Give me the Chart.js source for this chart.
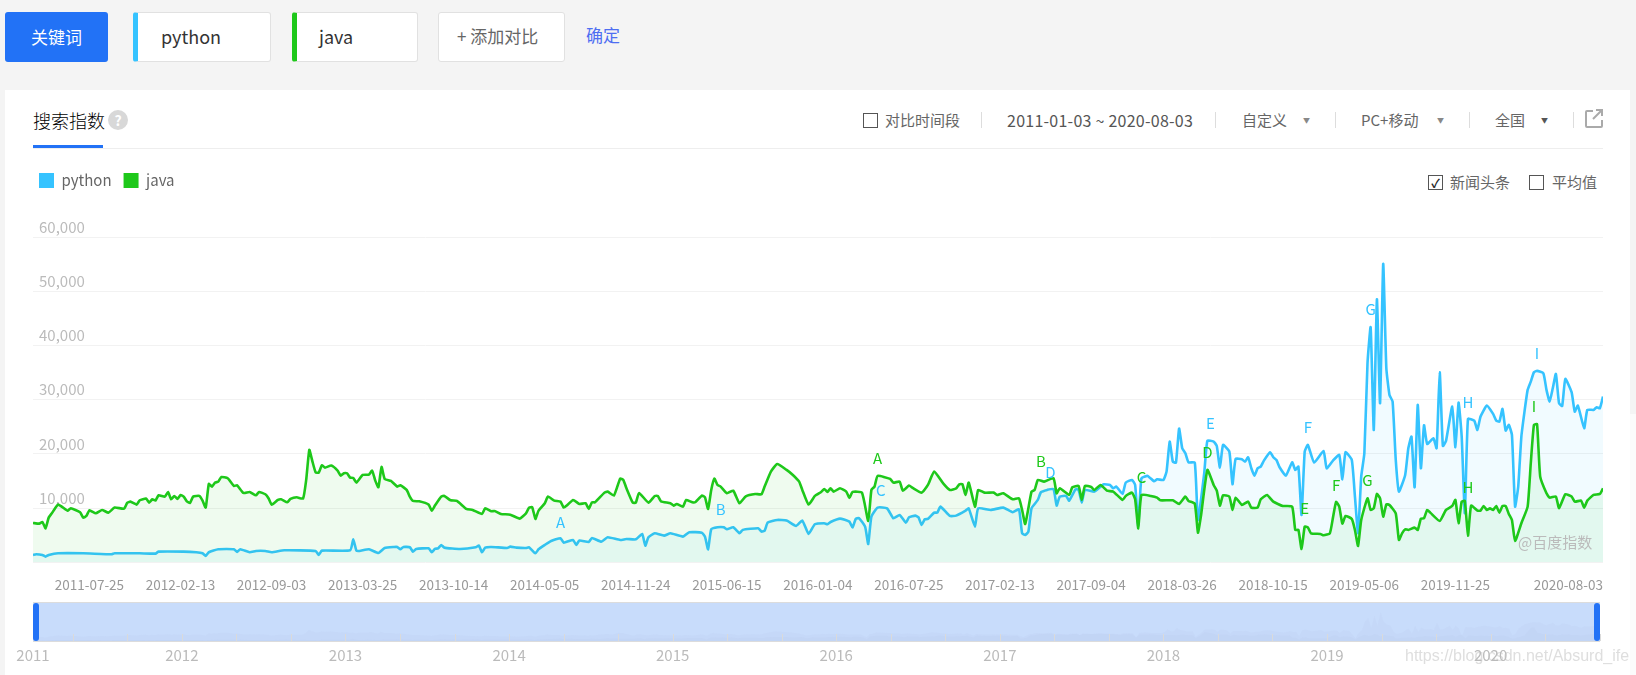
<!DOCTYPE html>
<html>
<head>
<meta charset="utf-8">
<title>百度指数</title>
<script src="https://cdn.jsdelivr.net/npm/chart.js@4"></script>
<style>
  html, body { margin: 0; padding: 0; width: 1636px; height: 675px; overflow: hidden; background: #f4f4f4; font-family: "Noto Sans CJK SC", sans-serif; }
  .abs { position: absolute; white-space: nowrap; }
  .box { position: absolute; top: 12px; height: 48px; background: #fff; border: 1px solid #e1e1e1; border-radius: 3px; box-sizing: content-box; }
  .small { font-size: 15px; color: #666; line-height: 20px; }
  .sep { position: absolute; top: 112px; width: 1px; height: 16px; background: #ddd; }
  .check { position: absolute; width: 13px; height: 13px; border: 1px solid #555; background: #fff; }
  .arrow { position: absolute; top: 116px; font-size: 7px; line-height: 8px; color: #888; }
</style>
</head>
<body>
<div class="abs" style="left:5px;top:12px;width:103px;height:50px;background:#2272f6;border-radius:3px;color:#fff;font-size:17px;line-height:50px;text-align:center">关键词</div>
<div class="box" style="left:133px;width:132px;border-left:5px solid #35c3ff"></div>
<div class="abs" style="left:161px;top:22px;font-size:18px;line-height:28px;color:#333">python</div>
<div class="box" style="left:292px;width:120px;border-left:5px solid #1ec81a"></div>
<div class="abs" style="left:319px;top:22px;font-size:18px;line-height:28px;color:#333">java</div>
<div class="box" style="left:438px;width:125px"></div>
<div class="abs" style="left:457px;top:22px;font-size:17px;line-height:28px;color:#666">+ 添加对比</div>
<div class="abs" style="left:586px;top:21px;font-size:17px;line-height:28px;color:#4e6ef2">确定</div>

<div class="abs" style="left:5px;top:90px;width:1625px;height:585px;background:#fff"></div>
<div class="abs" style="left:1630px;top:414px;width:6px;height:261px;background:#fbfbfb"></div>

<div class="abs" style="left:33px;top:106px;font-size:18px;font-weight:300;line-height:28px;color:#000">搜索指数</div>
<div class="abs" style="left:108px;top:110px;width:20px;height:20px;border-radius:10px;background:#d8d8d8;color:#fff;font-size:14px;font-weight:bold;line-height:20px;text-align:center">?</div>
<div class="abs" style="left:33px;top:148px;width:1570px;height:1px;background:#eee"></div>
<div class="abs" style="left:33px;top:145px;width:70px;height:3px;background:#2272f6"></div>

<div class="check" style="left:863px;top:113px"></div>
<div class="abs small" style="left:885px;top:110px">对比时间段</div>
<div class="sep" style="left:981px"></div>
<div class="abs small" style="left:1007px;top:110px;font-size:16px;letter-spacing:.25px;color:#555">2011-01-03 ~ 2020-08-03</div>
<div class="sep" style="left:1215px"></div>
<div class="abs small" style="left:1242px;top:110px">自定义</div>
<div class="arrow" style="left:1303px">▼</div>
<div class="sep" style="left:1335px"></div>
<div class="abs small" style="left:1361px;top:110px">PC+移动</div>
<div class="arrow" style="left:1437px">▼</div>
<div class="sep" style="left:1469px"></div>
<div class="abs small" style="left:1495px;top:110px">全国</div>
<div class="arrow" style="left:1541px;color:#555">▼</div>
<div class="sep" style="left:1573px"></div>
<svg class="abs" style="left:1585px;top:109px" width="18" height="19" viewBox="0 0 18 19" fill="none" stroke="#aaa" stroke-width="2">
  <path d="M8 2H2a1 1 0 0 0-1 1v14a1 1 0 0 0 1 1h14a1 1 0 0 0 1-1v-6"/>
  <path d="M8 10 16 2M11 1h6v6"/>
</svg>

<div class="check" style="left:1428px;top:175px;text-align:center;font-size:12px;font-weight:bold;line-height:13px;color:#222">✓</div>
<div class="abs small" style="left:1450px;top:172px">新闻头条</div>
<div class="check" style="left:1529px;top:175px"></div>
<div class="abs small" style="left:1552px;top:172px">平均值</div>

<canvas id="trendChart" width="1636" height="675" style="position:absolute;left:0;top:0"></canvas>
<canvas id="brushChart" width="1636" height="85" style="position:absolute;left:0;top:590px"></canvas>

<div class="abs" style="left:33px;top:603px;width:6px;height:38px;background:#2272f6;border-radius:3px"></div>
<div class="abs" style="left:1594px;top:603px;width:6px;height:38px;background:#2272f6;border-radius:3px"></div>
<div class="abs" style="left:1518px;top:531px;font-size:15px;line-height:22px;color:#bbb">@百度指数</div>
<div class="abs" style="left:1405px;top:645px;font-family:'Liberation Sans';font-size:16px;line-height:22px;color:rgba(190,190,190,.5)">https://blog.csdn.net/Absurd_ife</div>

<script>
// weeks counted from 2011-01-03 at each visible turn of the line
const pythonWeeks = [
  0, 1, 3, 4, 5, 8, 16, 25, 26, 34, 39, 40,
  48, 52, 54, 55, 56, 59, 64, 65, 66, 69, 71, 74,
  76, 80, 90, 91, 92, 101, 102, 103, 104, 107, 110, 112,
  115, 116, 117, 118, 120, 121, 122, 126, 127, 128, 129, 130,
  131, 136, 141, 142, 143, 144, 146, 151, 152, 154, 157, 158,
  160, 161, 163, 165, 168, 169, 172, 173, 174, 177, 178, 181,
  183, 187, 189, 192, 194, 195, 196, 198, 201, 203, 207, 209,
  213, 214, 215, 216, 218, 220, 221, 223, 225, 226, 231, 232,
  233, 234, 237, 240, 243, 245, 247, 249, 252, 253, 254, 257,
  260, 261, 262, 263, 265, 266, 267, 269, 272, 274, 276, 278,
  279, 281, 282, 283, 284, 285, 287, 288, 289, 292, 294, 297,
  298, 300, 301, 305, 309, 312, 314, 315, 316, 317, 318, 320,
  321, 323, 325, 326, 327, 329, 330, 332, 333, 334, 335, 338,
  340, 341, 343, 344, 345, 347, 348, 350, 351, 352, 353, 355,
  357, 358, 360, 361, 362, 363, 364, 365, 366, 367, 368, 370,
  371, 373, 374, 376, 377, 378, 379, 381, 382, 383, 385, 386,
  387, 388, 389, 390, 391, 392, 394, 395, 396, 397, 399, 401,
  402, 403, 404, 405, 406, 408, 411, 412, 414, 416, 417, 418,
  420, 421, 422, 423, 424, 425, 426, 427, 428, 429, 430, 431,
  432, 433, 434, 435, 437, 438, 439, 440, 441, 442, 443, 444,
  446, 447, 448, 449, 450, 452, 453, 454, 455, 456, 457, 459,
  460, 461, 463, 465, 466, 467, 468, 469, 470, 471, 472, 473,
  474, 475, 476, 477, 478, 479, 481, 482, 483, 484, 485, 486,
  487, 488, 490, 491, 492, 494, 495, 497, 498, 499, 500
];
const pythonValues = [
  1350, 1480, 1350, 1050, 1350, 1660, 1660, 1480, 1660, 1660, 1600, 1970,
  1970, 1850, 1660, 1170, 1850, 2400, 2400, 1910, 2400, 1850, 2090, 2090,
  1850, 2210, 2090, 1350, 2150, 2210, 4240, 2150, 2090, 2400, 1720, 2640,
  2830, 2830, 2400, 2830, 2770, 1970, 2460, 2580, 1850, 2460, 2580, 3200,
  2710, 2460, 2770, 3080, 1850, 2710, 2830, 2640, 2890, 2710, 2640, 2770,
  1660, 2400, 3200, 3940, 4430, 3630, 4120, 3200, 4000, 3750, 4490, 3810,
  4610, 4120, 4300, 4240, 5230, 3080, 4610, 5350, 4920, 5350, 4740, 5540,
  5470, 4740, 2400, 6090, 6460, 6460, 6090, 6460, 5350, 5970, 6270, 5660,
  5840, 7320, 7810, 7690, 6700, 7690, 5230, 7010, 7200, 7010, 7440, 8060,
  7500, 6400, 8000, 8180, 6580, 3380, 8430, 10090, 9960, 8120, 8730, 7320,
  8300, 8610, 8300, 6890, 7930, 8000, 9160, 9160, 10270, 8550, 8610, 9530,
  9960, 6580, 9960, 9660, 10090, 9230, 9780, 5350, 5040, 5660, 9960, 11500,
  12920, 13350, 13530, 10460, 12120, 12240, 11380, 13470, 13350, 11010, 13350, 13040,
  13960, 14390, 14270, 13650, 13960, 12610, 14700, 15190, 14270, 6770, 15500, 15930,
  14940, 15310, 15190, 16730, 22260, 18570, 18390, 24660, 21030, 20110, 18450, 18390,
  7810, 16420, 22390, 22260, 21460, 17470, 21650, 20420, 14390, 19070, 19000, 18570,
  19370, 17340, 15990, 17340, 17650, 18760, 20300, 19370, 18880, 17530, 15990, 18450,
  17040, 17650, 8730, 20420, 21650, 18390, 20540, 17340, 18760, 19800, 15310, 20300,
  18880, 12120, 5350, 15810, 20110, 36720, 43360, 24420, 48520, 29340, 55040, 35790,
  30870, 29640, 18880, 13040, 16110, 21030, 23190, 13840, 29030, 17340, 25280, 21830,
  22880, 21030, 35060, 21460, 22390, 28720, 21220, 29460, 23190, 9040, 26450, 26140,
  24420, 26880, 28900, 27370, 26140, 25950, 28290, 24290, 25340, 23490, 10270, 13960,
  23190, 27800, 31800, 33330, 35060, 35300, 34870, 31800, 29640, 32100, 34750, 29340,
  28840, 33830, 31370, 27800, 28900, 24720, 28110, 28110, 28600, 28410, 30570
];
const javaWeeks = [
  0, 2, 3, 4, 5, 6, 8, 11, 12, 15, 16, 17,
  18, 20, 22, 24, 26, 29, 30, 31, 33, 34, 36, 37,
  38, 39, 40, 42, 43, 44, 45, 46, 47, 48, 49, 50,
  51, 53, 54, 55, 56, 57, 58, 59, 60, 62, 64, 65,
  67, 69, 71, 72, 74, 75, 76, 78, 79, 81, 82, 84,
  86, 87, 88, 89, 90, 91, 92, 93, 95, 97, 98, 99,
  100, 101, 102, 103, 105, 107, 108, 109, 110, 111, 112, 114,
  116, 117, 119, 120, 121, 123, 126, 127, 128, 130, 131, 133,
  135, 138, 140, 143, 144, 146, 147, 149, 152, 155, 157, 158,
  159, 160, 161, 163, 164, 166, 168, 169, 170, 172, 174, 176,
  177, 178, 179, 182, 183, 185, 187, 188, 189, 191, 192, 193,
  196, 198, 199, 200, 203, 204, 205, 207, 208, 210, 211, 213,
  214, 215, 216, 217, 218, 219, 221, 223, 225, 227, 230, 232,
  233, 235, 237, 240, 242, 244, 245, 247, 249, 251, 252, 253,
  254, 255, 257, 259, 260, 261, 264, 266, 267, 268, 269, 273,
  274, 276, 277, 279, 280, 283, 285, 287, 290, 292, 294, 295,
  296, 297, 298, 300, 301, 303, 306, 307, 309, 312, 314, 315,
  316, 318, 319, 320, 322, 325, 326, 327, 330, 331, 333, 334,
  335, 337, 338, 340, 342, 344, 347, 348, 350, 351, 352, 353,
  356, 358, 359, 363, 365, 367, 368, 370, 371, 372, 374, 376,
  377, 378, 379, 381, 382, 383, 385, 387, 388, 390, 391, 393,
  395, 398, 401, 402, 403, 404, 405, 406, 407, 410, 411, 413,
  414, 415, 416, 417, 418, 420, 421, 422, 423, 425, 426, 427,
  428, 429, 430, 431, 432, 434, 435, 436, 437, 438, 440, 441,
  442, 443, 444, 445, 448, 450, 452, 453, 454, 455, 456, 457,
  458, 460, 461, 462, 463, 464, 465, 466, 467, 468, 469, 470,
  471, 472, 474, 476, 477, 478, 479, 480, 482, 483, 485, 486,
  488, 490, 491, 493, 494, 495, 497, 499, 500
];
const javaValues = [
  7260, 7130, 7440, 6270, 8240, 9040, 10640, 9530, 9960, 9230, 8240, 8550,
  9590, 9040, 9660, 9160, 10090, 9900, 10950, 11190, 10640, 11440, 11750, 11010,
  11620, 11380, 12360, 12120, 12980, 11620, 12240, 11690, 12420, 12120, 11250, 10950,
  12120, 12240, 11380, 10090, 14450, 13960, 14700, 14880, 15740, 15500, 14080, 14210,
  12790, 12980, 12360, 12980, 12550, 11810, 10640, 11500, 11620, 11070, 11690, 11990,
  11750, 15190, 20730, 18570, 16600, 16540, 17900, 17470, 17840, 16910, 15990, 16420,
  16420, 15620, 15560, 14700, 16110, 16170, 16910, 15070, 13840, 17590, 15380, 15010,
  13960, 14210, 13350, 12120, 11320, 11250, 10640, 9530, 10460, 12120, 12240, 11440,
  11320, 9840, 9660, 8920, 9960, 9410, 9470, 8920, 8790, 8060, 9040, 10090,
  10150, 8000, 9530, 10890, 12120, 11380, 11190, 10090, 10460, 11500, 10760, 10890,
  9840, 11070, 11070, 12850, 13040, 12300, 15440, 15190, 13650, 11010, 11010, 12790,
  11010, 12240, 12240, 11250, 10890, 10460, 10760, 10270, 11500, 11070, 11130, 12300,
  11990, 9840, 13350, 15440, 14270, 13960, 12730, 13220, 10890, 12180, 12610, 12550,
  13960, 16730, 18140, 17040, 16110, 14880, 13350, 10640, 12240, 12980, 13530, 12980,
  13650, 13040, 13650, 13040, 11870, 12980, 12850, 7630, 13350, 13960, 15930, 15380,
  14700, 14880, 13220, 14150, 13780, 12850, 14270, 16730, 14450, 13350, 13650, 14390,
  14390, 12420, 14700, 10270, 13350, 12850, 12850, 12420, 12730, 11620, 11810, 9660,
  7070, 13040, 13350, 15190, 14880, 15500, 12730, 13650, 12420, 13840, 14080, 11500,
  14080, 13900, 13350, 14270, 13220, 13040, 11500, 12240, 12850, 11620, 6270, 12420,
  12240, 11930, 11440, 11440, 10760, 12120, 11320, 10820, 5470, 8730, 17040, 14270,
  13220, 10460, 12360, 12120, 9660, 11930, 10580, 11190, 10090, 10090, 11620, 12420,
  11190, 10390, 10270, 5970, 5970, 2460, 6580, 6460, 5350, 5230, 4980, 5350,
  8240, 11130, 10270, 7130, 8550, 8000, 5970, 3010, 7810, 11810, 9660, 9960,
  12610, 11810, 8430, 10700, 10580, 9040, 4120, 5350, 6090, 5970, 6400, 5970,
  8060, 8120, 9660, 9160, 7630, 9660, 10390, 11500, 7200, 11190, 11320, 4920,
  10460, 9530, 9530, 10390, 9660, 9960, 9660, 10390, 9160, 10390, 10390, 8920,
  7810, 3940, 7200, 10270, 18270, 25340, 25460, 15810, 12730, 11930, 12120, 9960,
  12550, 12120, 11190, 11380, 10090, 11380, 12420, 12610, 13650
];

const tickWeeks = [29, 58, 87, 116, 145, 174, 203, 232, 261, 290, 319, 348, 377, 406, 435, 464, 500];
const tickLabels = [
  "2011-07-25", "2012-02-13", "2012-09-03", "2013-03-25", "2013-10-14", "2014-05-05",
  "2014-11-24", "2015-06-15", "2016-01-04", "2016-07-25", "2017-02-13", "2017-09-04",
  "2018-03-26", "2018-10-15", "2019-05-06", "2019-11-25", "2020-08-03"
];

// news headline letters
const pythonNewsLetters = ["A", "B", "C", "D", "E", "F", "G", "H", "I"];
const pythonNewsWeeks = [168, 219, 270, 324, 375, 406, 426, 457, 479];
const pythonNewsLevels = [7435, 9830, 13340, 16660, 25700, 24960, 46730, 29575, 38620];
const javaNewsLetters = ["A", "B", "C", "D", "E", "F", "G", "H", "I"];
const javaNewsWeeks = [269, 321, 353, 374, 405, 415, 425, 457, 478];
const javaNewsLevels = [19110, 18560, 15740, 20220, 9890, 14260, 15055, 13760, 28700];

const brushTickWeeks = [
  12.7, 30.1, 47.5, 64.9, 82.3, 99.7, 117.1, 134.5, 151.9, 169.3, 186.7, 204.1, 221.5, 238.9,
  256.3, 273.7, 291.1, 308.5, 325.9, 343.3, 360.7, 378.1, 395.5, 412.9, 430.3, 447.7, 465.1, 482.5, 499.9
];
const brushYearWeeks = [0, 47.5, 99.7, 151.9, 204.1, 256.3, 308.5, 360.7, 412.9, 465.1];
const brushYearLabels = ["2011", "2012", "2013", "2014", "2015", "2016", "2017", "2018", "2019", "2020"];

const PYTHON_COLOR = "#35c3ff";
const JAVA_COLOR = "#1ec81a";
const FONT = '"Noto Sans CJK SC", sans-serif';

function toPoints(weeks, values) {
  return weeks.map((w, i) => ({ x: w, y: values[i] }));
}

// news letters sit in data space, on top of the lines
const newsLetters = {
  id: "newsLetters",
  afterDatasetsDraw(chart) {
    const { ctx, scales } = chart;
    const drawSet = (letters, weeks, levels) => {
      letters.forEach((letter, i) => {
        ctx.fillText(letter, scales.x.getPixelForValue(weeks[i]), scales.y.getPixelForValue(levels[i]));
      });
    };
    ctx.save();
    ctx.font = "15px " + FONT;
    ctx.textAlign = "center";
    ctx.textBaseline = "middle";
    ctx.fillStyle = PYTHON_COLOR;
    drawSet(pythonNewsLetters, pythonNewsWeeks, pythonNewsLevels);
    ctx.fillStyle = JAVA_COLOR;
    drawSet(javaNewsLetters, javaNewsWeeks, javaNewsLevels);
    ctx.restore();
  },
};

// leaves room between the legend and the top gridline
const legendGap = {
  id: "legendGap",
  beforeInit(chart) {
    const fit = chart.legend.fit;
    chart.legend.fit = function () {
      fit.call(chart.legend);
      this.height = 76;
    };
  },
};

Chart.defaults.animation = false;
Chart.defaults.font.family = FONT;

new Chart(document.getElementById("trendChart").getContext("2d"), {
  type: "line",
  data: {
    datasets: [
      {
        label: "python",
        data: toPoints(pythonWeeks, pythonValues),
        borderColor: PYTHON_COLOR,
        backgroundColor: "rgba(53, 195, 255, 0.07)",
        borderWidth: 2.6,
        tension: 0.15,
        pointRadius: 0,
        fill: "origin",
        order: 2,
      },
      {
        label: "java",
        data: toPoints(javaWeeks, javaValues),
        borderColor: JAVA_COLOR,
        backgroundColor: "rgba(31, 201, 26, 0.07)",
        borderWidth: 2.6,
        tension: 0.15,
        pointRadius: 0,
        fill: "origin",
        order: 1,
      },
    ],
  },
  options: {
    responsive: false,
    layout: { padding: { left: 27, right: 33, top: 161, bottom: 82.7 } },
    plugins: {
      tooltip: { enabled: false },
      legend: {
        align: "start",
        labels: {
          boxWidth: 15,
          boxHeight: 15,
          padding: 12,
          color: "#666",
          font: { size: 15 },
          generateLabels: (chart) =>
            chart.data.datasets.map((d, i) => ({
              text: d.label,
              fillStyle: d.borderColor,
              strokeStyle: d.borderColor,
              lineWidth: 0,
              fontColor: "#666",
              datasetIndex: i,
            })),
        },
      },
    },
    scales: {
      x: {
        type: "linear",
        min: 0,
        max: 500,
        border: { display: false },
        grid: { display: false },
        ticks: {
          autoSkip: false,
          maxRotation: 0,
          align: "end",
          padding: 6,
          color: "#999",
          font: { size: 13.5 },
          callback: (v) => tickLabels[tickWeeks.indexOf(v)],
        },
        afterBuildTicks: (axis) => {
          axis.ticks = tickWeeks.map((v) => ({ value: v }));
        },
        afterFit: (axis) => {
          axis.height = 30;
        },
      },
      y: {
        min: 0,
        max: 60000,
        border: { display: false },
        grid: { color: "#f2f2f2", drawTicks: false },
        ticks: {
          stepSize: 10000,
          mirror: true,
          padding: 6,
          labelOffset: -10,
          color: "#bbb",
          font: { size: 15 },
          callback: (v) => (v === 0 ? "" : v.toLocaleString("en-US")),
        },
        afterFit: (axis) => {
          axis.width = 6;
        },
      },
    },
  },
  plugins: [newsLetters, legendGap],
});

// slider panel under the main chart
const brushBackground = {
  id: "brushBackground",
  beforeDatasetsDraw(chart) {
    const { ctx, chartArea } = chart;
    ctx.save();
    ctx.fillStyle = "#c8dcfb";
    ctx.fillRect(chartArea.left, chartArea.top, chartArea.width, chartArea.height);
    ctx.fillStyle = "#dcdcdc";
    ctx.fillRect(chartArea.left, chartArea.top - 1, chartArea.width, 1);
    ctx.fillRect(chartArea.left, chartArea.bottom, chartArea.width, 1);
    ctx.restore();
  },
  afterDatasetsDraw(chart) {
    const { ctx, chartArea, scales } = chart;
    ctx.save();
    ctx.fillStyle = "#dadada";
    brushTickWeeks.forEach((w) => {
      ctx.fillRect(Math.round(scales.x.getPixelForValue(w)), chartArea.bottom - 7, 1, 7);
    });
    ctx.restore();
  },
};

new Chart(document.getElementById("brushChart").getContext("2d"), {
  type: "line",
  data: {
    datasets: [
      {
        data: toPoints(pythonWeeks, pythonValues),
        borderWidth: 0,
        pointRadius: 0,
        fill: "origin",
        backgroundColor: "rgba(150, 150, 190, 0.05)",
      },
      {
        data: toPoints(javaWeeks, javaValues),
        borderWidth: 0,
        pointRadius: 0,
        fill: "origin",
        backgroundColor: "rgba(150, 150, 190, 0.05)",
      },
    ],
  },
  options: {
    responsive: false,
    layout: { padding: { left: 33, right: 36, top: 13, bottom: 0 } },
    plugins: { legend: { display: false }, tooltip: { enabled: false } },
    scales: {
      x: {
        type: "linear",
        min: 0,
        max: 500,
        border: { display: false },
        grid: { display: false, drawTicks: false },
        ticks: {
          autoSkip: false,
          maxRotation: 0,
          padding: 5.5,
          color: "#bbb",
          font: { size: 15 },
          callback: (v) => brushYearLabels[brushYearWeeks.indexOf(v)],
        },
        afterBuildTicks: (axis) => {
          axis.ticks = brushYearWeeks.map((v) => ({ value: v }));
        },
        afterFit: (axis) => {
          axis.height = 34;
        },
      },
      y: { display: false, min: 0, max: 72000 },
    },
  },
  plugins: [brushBackground],
});
</script>
</body>
</html>
